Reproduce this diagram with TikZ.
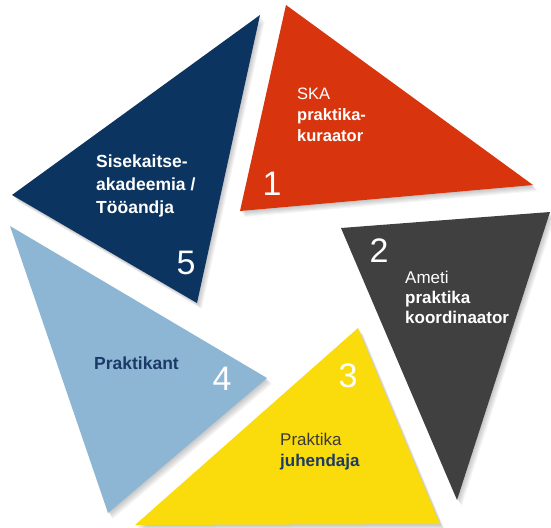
\documentclass[tikz,border=0pt]{standalone}
\usepackage{fontspec}
\setmainfont{Liberation Sans}
\usetikzlibrary{calc}
\definecolor{skared}{HTML}{D8350F}
\definecolor{ametigray}{HTML}{404040}
\definecolor{juhyellow}{HTML}{FADC0C}
\definecolor{praklblue}{HTML}{8DB6D4}
\definecolor{akanavy}{HTML}{0C3461}
\definecolor{labnavy}{HTML}{1B3A68}
\definecolor{labdark}{HTML}{3A3A3A}
\tikzset{
  shade/.style={fill=black, opacity=0.04},
  lab/.style={font=\fontsize{16.5}{21}\selectfont, align=left, anchor=north west, inner sep=0pt},
  labbig/.style={lab, font=\fontsize{17.5}{23}\selectfont},
  num/.style={text=white, font=\fontsize{34}{34}\selectfont, inner sep=0pt}
}
\begin{document}
\begin{tikzpicture}[x=1pt, y=-1pt]
  \useasboundingbox (0,0) rectangle (551,527);
  % corners of the five wedges
  \coordinate (R1) at (286,5);   \coordinate (R2) at (533,185); \coordinate (R3) at (240,211);
  \coordinate (G1) at (341,228); \coordinate (G2) at (550,212); \coordinate (G3) at (457,500);
  \coordinate (Y1) at (358,328); \coordinate (Y2) at (440,524); \coordinate (Y3) at (135,525);
  \coordinate (B1) at (10,226);  \coordinate (B2) at (267,378); \coordinate (B3) at (108,513);
  \coordinate (N1) at (260,15);  \coordinate (N2) at (197,303); \coordinate (N3) at (12,195);
  % soft shadows
  \foreach \t in {R,G,Y,B,N}
    \foreach \k in {1,...,6}
      \fill[shade] ($(\t1)+(0.8*\k,\k)$) -- ($(\t2)+(0.8*\k,\k)$) -- ($(\t3)+(0.8*\k,\k)$) -- cycle;
  \fill[skared] (R1) -- (R2) -- (R3) -- cycle;
  \fill[ametigray] (G1) -- (G2) -- (G3) -- cycle;
  \fill[juhyellow] (Y1) -- (Y2) -- (Y3) -- cycle;
  \fill[praklblue] (B1) -- (B2) -- (B3) -- cycle;
  \fill[akanavy] (N1) -- (N2) -- (N3) -- cycle;
  % numbers
  \node[num] (n1) at (272,184) {1};
  \node[num] (n2) at (379,251) {2};
  \node[num] (n3) at (348,376) {3};
  \node[num] (n4) at (222,379) {4};
  \node[num] (n5) at (186,263) {5};
  % labels
  \node[lab, text=white] (kuraator) at (297,88) {SKA\\\textbf{praktika-}\\\textbf{kuraator}};
  \node[lab, font=\fontsize{17}{20}\selectfont, text=white] (koordinaator) at (405,271) {Ameti\\\textbf{praktika}\\\textbf{koordinaator}};
  \node[lab, font=\fontsize{17}{21}\selectfont] (juhendaja) at (280,433) {\textcolor{labdark}{Praktika}\\\textcolor{labnavy}{\textbf{juhendaja}}};
  \node[labbig, text=labnavy] (praktikant) at (94,357) {\textbf{Praktikant}};
  \node[labbig, text=white] (akadeemia) at (96,155) {\textbf{Sisekaitse-}\\\textbf{akadeemia /}\\\textbf{Tööandja}};
\end{tikzpicture}
\end{document}
